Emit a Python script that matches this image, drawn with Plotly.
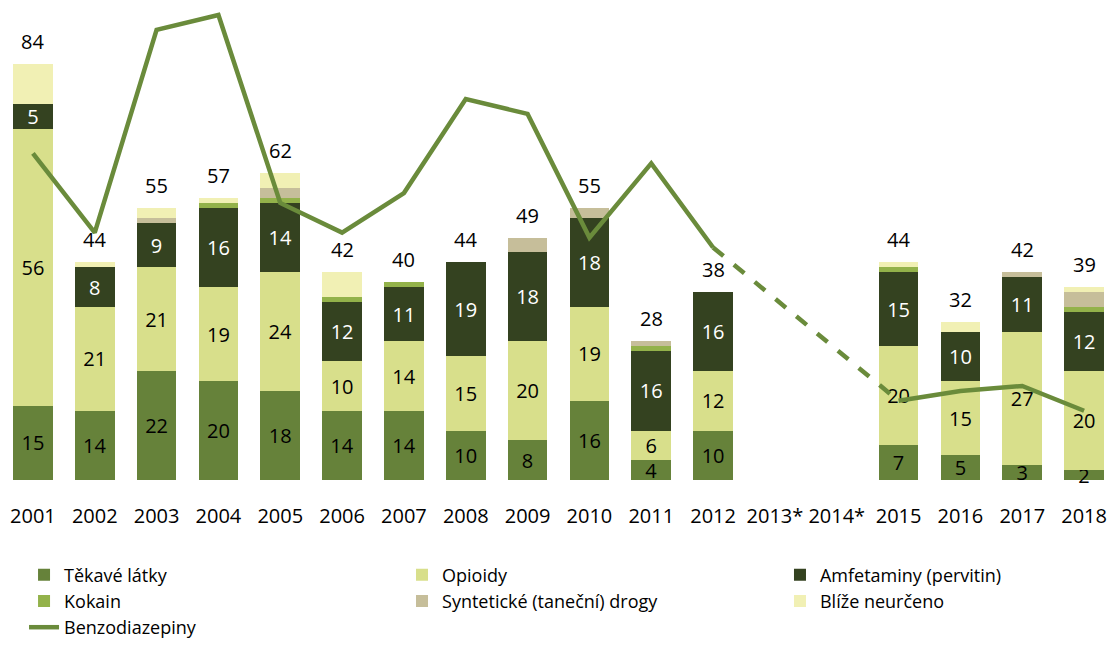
import plotly.graph_objects as go

years = ["2001", "2002", "2003", "2004", "2005", "2006", "2007", "2008", "2009",
         "2010", "2011", "2012", "2013*", "2014*", "2015", "2016", "2017", "2018"]

tekave = [15, 14, 22, 20, 18, 14, 14, 10, 8, 16, 4, 10, None, None, 7, 5, 3, 2]
opioidy = [56, 21, 21, 19, 24, 10, 14, 15, 20, 19, 6, 12, None, None, 20, 15, 27, 20]
amfetaminy = [5, 8, 9, 16, 14, 12, 11, 19, 18, 18, 16, 16, None, None, 15, 10, 11, 12]
kokain = [0, 0, 0, 1, 1, 1, 1, 0, 0, 0, 1, 0, None, None, 1, 0, 0, 1]
synteticke = [0, 0, 1, 0, 2, 0, 0, 0, 3, 2, 1, 0, None, None, 0, 0, 1, 3]
blize = [8, 1, 2, 1, 3, 5, 0, 0, 0, 0, 0, 0, None, None, 1, 2, 0, 1]
benzo = [66, 50, 91, 94, 56, 50, 58, 77, 74, 49, 64, 47, None, None, 16, 18, 19, 14]

FONT = "Open Sans"

# (name, values, colour, label colour, show labels, legend column)
series = [
    ("Těkavé látky", tekave, "#66823A", "black", True, "legend"),
    ("Opioidy", opioidy, "#D8DF8B", "black", True, "legend2"),
    ("Amfetaminy (pervitin)", amfetaminy, "#344220", "white", True, "legend3"),
    ("Kokain", kokain, "#93B24A", "black", False, "legend"),
    ("Syntetické (taneční) drogy", synteticke, "#C6BE9A", "black", False, "legend2"),
    ("Blíže neurčeno", blize, "#F1F0B4", "black", False, "legend3"),
]

fig = go.Figure()
for name, vals, color, tcol, show_text, leg in series:
    if show_text:
        kw = dict(text=[str(v) if v is not None else "" for v in vals],
                  texttemplate="%{text}", textposition="inside",
                  insidetextanchor="middle", textangle=0,
                  textfont=dict(color=tcol, size=20, family=FONT))
    else:
        kw = dict(textposition="none")
    fig.add_trace(go.Bar(
        x=years, y=vals, name=name, cliponaxis=False, legend=leg,
        marker=dict(color=color, line=dict(width=0)),
        hoverinfo="skip", **kw,
    ))

line_color = "#6A8B3B"
fig.add_trace(go.Scatter(
    x=years, y=benzo, name="Benzodiazepiny", mode="lines", legend="legend4",
    line=dict(color=line_color, width=4.5),
    connectgaps=False, cliponaxis=False,
))
# dashed bridge across missing years
i_a, i_b = years.index("2012"), years.index("2015")
fig.add_trace(go.Scatter(
    x=[years[i_a], years[i_b]], y=[benzo[i_a], benzo[i_b]],
    mode="lines", showlegend=False,
    line=dict(color=line_color, width=4.5, dash="dash"),
))

# totals above bars
for i, yr in enumerate(years):
    parts = [s[1][i] for s in series]
    if parts[0] is None:
        continue
    tot = sum(parts)
    fig.add_annotation(x=i, y=tot, xref="x", yref="y", text=str(tot),
                       showarrow=False, yanchor="bottom", yshift=7,
                       font=dict(size=20, color="black", family=FONT))

leg_common = dict(orientation="v", xanchor="left", yanchor="top",
                  font=dict(size=18, family=FONT, color="black"),
                  traceorder="normal", itemwidth=30, bgcolor="rgba(0,0,0,0)")

fig.update_layout(
    width=1115, height=646,
    barmode="stack", bargap=0.36,
    plot_bgcolor="white", paper_bgcolor="white",
    margin=dict(l=2, r=0, t=10, b=163),
    font=dict(family=FONT, size=18, color="black"),
    uniformtext=dict(minsize=20, mode="show"),
    xaxis=dict(type="category", categoryorder="array", categoryarray=years,
               showgrid=False, showline=False, zeroline=False, automargin=False,
               tickangle=0, ticks="outside", ticklen=18, tickcolor="rgba(0,0,0,0)",
               tickfont=dict(size=20, family=FONT, color="black")),
    yaxis=dict(range=[0, 95], visible=False, showgrid=False, zeroline=False,
               automargin=False),
    legend=dict(x=0.0198, y=-0.1628, **leg_common),
    legend2=dict(x=0.3594, y=-0.1628, **leg_common),
    legend3=dict(x=0.699, y=-0.1628, **leg_common),
    legend4=dict(x=0.0198, y=-0.2748, **leg_common),
    showlegend=True,
)

fig.write_html("out.html", config={"displayModeBar": False},
               post_script="document.body.style.margin='0';document.body.style.padding='0';")
